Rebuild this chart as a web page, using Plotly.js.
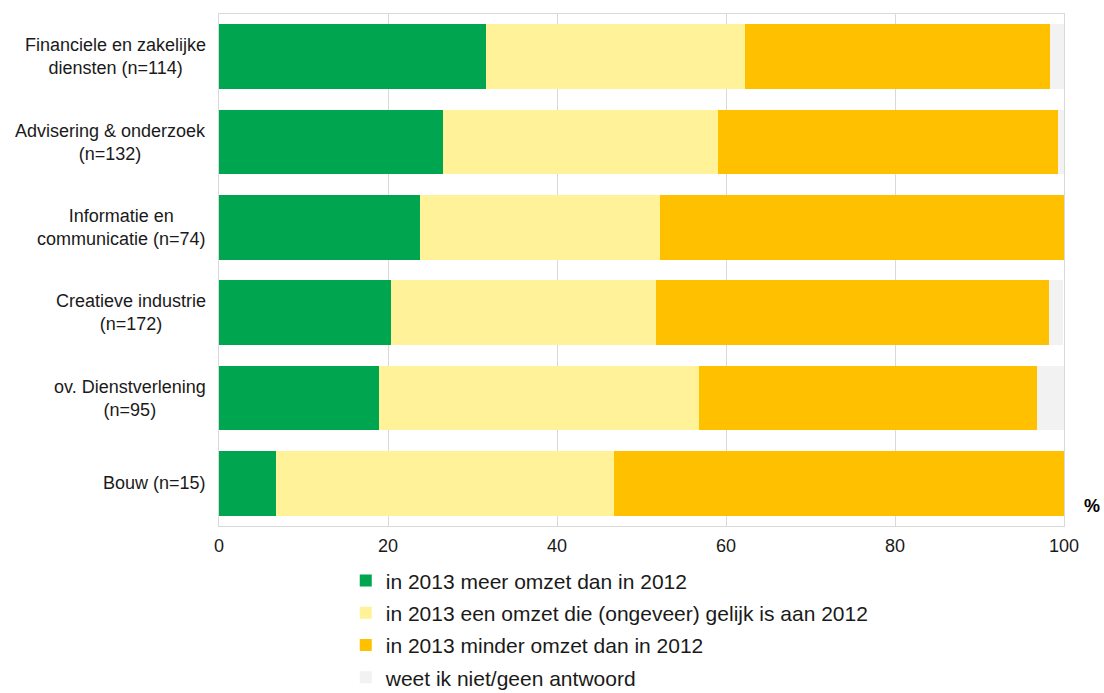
<!DOCTYPE html>
<html>
<head>
<meta charset="utf-8">
<script src="https://cdn.plot.ly/plotly-3.0.1.min.js"></script>
<style>
html,body{margin:0;padding:0;background:#fff;}
#chart{width:1104px;height:693px;}
</style>
</head>
<body>
<div id="chart"></div>
<script>
const categories = [
  "Financiele en zakelijke<br>diensten (n=114)",
  "Advisering & onderzoek<br>(n=132)",
  "Informatie en<br>communicatie (n=74)",
  "Creatieve industrie<br>(n=172)",
  "ov. Dienstverlening<br>(n=95)",
  "Bouw (n=15)"
];
const meer = [31.6, 26.5, 23.8, 20.3, 18.9, 6.7];
const gelijk = [30.7, 32.6, 28.4, 31.4, 37.9, 40.0];
const minder = [36.0, 40.2, 47.8, 46.5, 40.0, 53.3];
const weetNiet = [1.7, 0.8, 0.0, 1.7, 3.2, 0.0];
const seriesNames = [
  "in 2013 meer omzet dan in 2012",
  "in 2013 een omzet die (ongeveer) gelijk is aan 2012",
  "in 2013 minder omzet dan in 2012",
  "weet ik niet/geen antwoord"
];
const colors = ["#00A54F", "#FFF299", "#FFC000", "#F2F2F2"];
const xTicks = [0, 20, 40, 60, 80, 100];

const seriesValues = [meer, gelijk, minder, weetNiet];
const traces = seriesValues.map((vals, i) => ({
  type: "bar",
  orientation: "h",
  y: categories,
  x: vals,
  name: seriesNames[i],
  legendgroup: "g" + i,
  marker: {color: colors[i], line: {width: 0}},
  width: 0.76,
  hoverinfo: "x+name"
}));

const FONT = "Liberation Sans, Arial, Helvetica, sans-serif";
const annotations = categories.map(c => ({
  text: c,
  xref: "paper", yref: "y",
  x: -0.013, y: c,
  xanchor: "right", yanchor: "middle",
  align: "center",
  showarrow: false,
  font: {family: FONT, size: 18, color: "#1a1a1a"}
}));
annotations.push({
  text: "%",
  xref: "paper", yref: "paper",
  x: 1.033, y: 0.04,
  xanchor: "center", yanchor: "middle",
  showarrow: false,
  font: {family: FONT, size: 18, color: "#000", weight: "bold"}
});

const layout = {
  width: 1104, height: 693,
  margin: {l: 219, r: 40, t: 14, b: 167, autoexpand: false},
  barmode: "stack",
  paper_bgcolor: "#fff",
  plot_bgcolor: "#fff",
  font: {family: FONT, size: 18, color: "#1a1a1a"},
  xaxis: {
    range: [0, 100],
    tickvals: xTicks,
    ticktext: xTicks.map(String),
    showgrid: true, gridcolor: "#D9D9D9", gridwidth: 1,
    zeroline: false,
    showline: true, linecolor: "#D9D9D9", linewidth: 1, mirror: true,
    ticks: "outside", ticklen: 3, tickcolor: "rgba(0,0,0,0)",
    tickfont: {family: FONT, size: 18, color: "#1a1a1a"},
    fixedrange: true
  },
  yaxis: {
    autorange: "reversed",
    showticklabels: false,
    showgrid: false,
    zeroline: false,
    showline: true, linecolor: "#D9D9D9", linewidth: 1, mirror: true,
    ticks: "",
    fixedrange: true
  },
  showlegend: true,
  legend: {
    orientation: "v",
    x: 0.150, xanchor: "left",
    y: -0.067, yanchor: "top",
    traceorder: "grouped",
    tracegroupgap: 2,
    font: {family: FONT, size: 21, color: "#1a1a1a"},
    bgcolor: "rgba(0,0,0,0)"
  },
  annotations: annotations
};

Plotly.newPlot("chart", traces, layout, {displayModeBar: false, staticPlot: true});
</script>
</body>
</html>
